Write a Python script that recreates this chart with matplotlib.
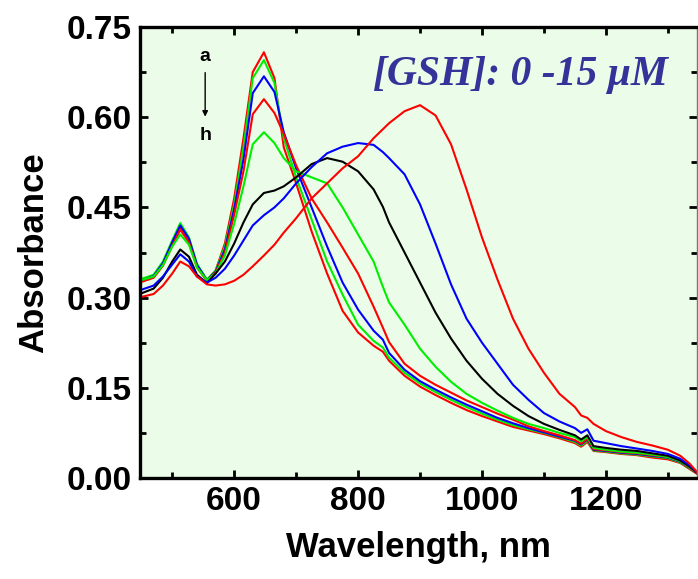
import matplotlib
matplotlib.use("Agg")
import matplotlib.pyplot as plt
from matplotlib.ticker import MultipleLocator, FormatStrFormatter

# Wavelength grid (nm) shared by all spectra
wl = [450, 470, 485, 500, 513, 527, 540, 556, 570, 585, 600, 615, 630, 648,
      665, 680, 700, 725, 750, 775, 800, 825, 840, 850, 875, 900, 925, 950,
      975, 1000, 1025, 1050, 1075, 1100, 1125, 1150, 1160, 1170, 1180, 1200,
      1225, 1250, 1275, 1300, 1320, 1335, 1347]

# Absorbance, a -> h ([GSH] 0 -> 15 uM)
abs_a = [.327, .334, .355, .390, .418, .395, .352, .328, .345, .390, .465, .565, .675, .708,
         .665, .550, .490, .410, .340, .278, .242, .220, .210, .195, .170, .152, .138, .125,
         .113, .103, .094, .085, .079, .073, .066, .058, .052, .060, .045, .043,
         .040, .038, .034, .031, .025, .015, .007]
abs_b = [.331, .338, .360, .395, .424, .400, .356, .330, .345, .385, .455, .550, .665, .695,
         .657, .565, .500, .430, .360, .305, .255, .228, .217, .200, .175, .157, .143, .130,
         .118, .107, .097, .088, .081, .075, .068, .060, .054, .062, .046, .044,
         .041, .039, .036, .033, .026, .016, .008]
abs_c = [.328, .336, .357, .392, .420, .398, .354, .329, .343, .380, .447, .530, .640, .668,
         .642, .575, .515, .450, .385, .325, .280, .245, .230, .208, .180, .161, .147, .134,
         .122, .111, .100, .091, .083, .076, .069, .062, .056, .064, .047, .045,
         .042, .040, .037, .034, .027, .017, .008]
abs_d = [.326, .333, .353, .386, .413, .392, .350, .328, .342, .375, .438, .510, .605, .630,
         .607, .572, .520, .465, .425, .383, .340, .285, .250, .226, .190, .170, .155, .142,
         .129, .118, .107, .097, .086, .078, .071, .063, .057, .065, .048, .046,
         .043, .041, .038, .035, .028, .017, .008]
abs_e = [.329, .335, .354, .385, .405, .388, .350, .329, .340, .370, .423, .485, .555, .575,
         .557, .532, .510, .500, .490, .450, .405, .360, .318, .292, .255, .215, .185, .160,
         .140, .125, .112, .100, .090, .083, .075, .068, .061, .068, .050, .047,
         .044, .042, .039, .035, .028, .018, .009]
abs_f = [.307, .315, .333, .360, .380, .368, .338, .324, .340, .360, .390, .425, .455, .474,
         .478, .485, .500, .522, .532, .526, .510, .480, .451, .425, .375, .325, .275, .232,
         .195, .165, .140, .120, .103, .090, .080, .071, .064, .071, .053, .050,
         .047, .045, .041, .037, .029, .019, .009]
abs_g = [.313, .320, .335, .355, .372, .360, .335, .325, .333, .348, .370, .395, .420, .437,
         .450, .465, .490, .517, .540, .551, .557, .554, .542, .532, .505, .455, .390, .322,
         .265, .225, .190, .155, .130, .108, .094, .083, .075, .081, .062, .058,
         .053, .049, .045, .040, .032, .021, .010]
abs_h = [.301, .306, .320, .340, .360, .352, .335, .322, .320, .322, .328, .338, .352, .370,
         .388, .408, .432, .465, .490, .515, .535, .565, .580, .590, .610, .620, .603, .555,
         .480, .400, .330, .265, .215, .175, .140, .118, .104, .100, .090, .078,
         .068, .060, .054, .047, .037, .024, .010]

spectra = [abs_a, abs_b, abs_c, abs_d, abs_e, abs_f, abs_g, abs_h]
colors = ["#ff0000", "#00ee00", "#0000ff", "#ff0000", "#00ee00", "#000000", "#0000ff", "#ff0000"]

plt.rcParams["font.family"] = ["Liberation Sans", "DejaVu Sans"]
plt.rcParams["font.weight"] = "bold"

fig = plt.figure(figsize=(6.98, 5.79), dpi=100)
ax = fig.add_axes([140 / 698, 1 - 478 / 579, 557 / 698, 451 / 579])
ax.set_facecolor("#ebfde8")

for y, c in zip(spectra, colors):
    ax.plot(wl, y, color=c, lw=1.5)

ax.set_xlim(448, 1347)
ax.set_ylim(0, 0.75)
ax.xaxis.set_major_locator(MultipleLocator(200))
ax.xaxis.set_minor_locator(MultipleLocator(100))
ax.yaxis.set_major_locator(MultipleLocator(0.15))
ax.yaxis.set_minor_locator(MultipleLocator(0.075))
ax.yaxis.set_major_formatter(FormatStrFormatter("%.2f"))

ax.tick_params(which="both", direction="in", top=True, right=True, width=2)
ax.tick_params(which="major", length=6, labelsize=24, pad=6)
ax.tick_params(which="minor", length=4)
for s in ["left", "bottom", "top"]:
    ax.spines[s].set_linewidth(2.4)
ax.spines["right"].set_linewidth(1)
ax.spines["right"].set_color("#777777")

ax.set_xlabel("Wavelength, nm", fontsize=25, fontweight="bold", labelpad=10)
ax.set_ylabel("Absorbance", fontsize=25, fontweight="bold", labelpad=12)

ax.text(0.683, 0.894, "[GSH]: 0 -15 \u03bcM", transform=ax.transAxes, ha="center", va="center",
        fontsize=30, fontweight="bold", fontstyle="italic", color="#333399",
        family=["Liberation Serif", "DejaVu Serif"])

ax.text(0.117, 0.935, "a", transform=ax.transAxes, ha="center", va="center", fontsize=14, fontweight="bold")
ax.text(0.117, 0.76, "h", transform=ax.transAxes, ha="center", va="center", fontsize=14, fontweight="bold")
ax.annotate("", xy=(0.117, 0.795), xytext=(0.117, 0.905), xycoords="axes fraction",
            arrowprops=dict(arrowstyle="-|>", color="black", lw=1, mutation_scale=8))

fig.savefig("out.png", dpi=100)
